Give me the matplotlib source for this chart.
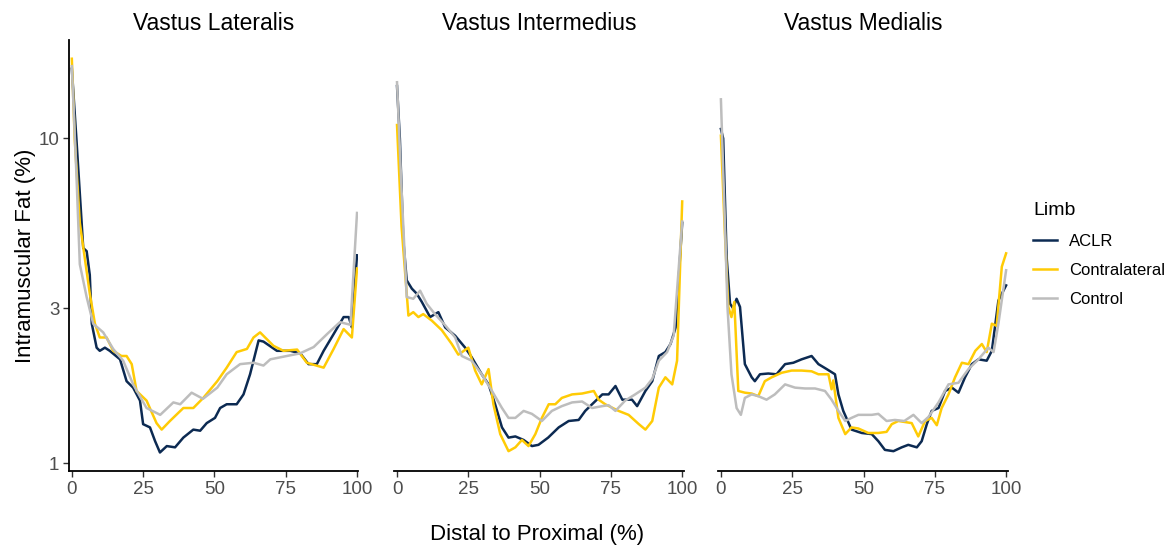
import matplotlib.pyplot as plt
from matplotlib.ticker import FixedLocator, NullLocator

plt.rcParams['font.family'] = ['Liberation Sans', 'DejaVu Sans']

titles = ['Vastus Lateralis', 'Vastus Intermedius', 'Vastus Medialis']
limbs = ['ACLR', 'Contralateral', 'Control']
colors = {'ACLR': '#0c2a52', 'Contralateral': '#ffcb05', 'Control': '#bdbdbd'}

# Vastus Lateralis
vl_aclr_x = [0, 1.6, 4, 5.2, 6.3, 7, 8.7, 9.8, 11.6, 13.3, 16.9, 19.2, 21.5, 23.9, 25, 27.4, 29.2, 30.9, 33.3,
             36.2, 39.1, 42.6, 45, 47.3, 50.2, 52, 54.3, 57.8, 60.2, 62.5, 65.5, 67.2, 71.9, 76.6, 80.1, 83,
             85.9, 88.3, 91.8, 95.3, 97.1, 98.2, 100]
vl_aclr_y = [16.4, 10, 4.6, 4.5, 3.8, 2.69, 2.27, 2.22, 2.27, 2.22, 2.09, 1.79, 1.71, 1.56, 1.32, 1.29, 1.17,
             1.08, 1.13, 1.12, 1.2, 1.27, 1.26, 1.33, 1.38, 1.48, 1.52, 1.52, 1.63, 1.88, 2.39, 2.37, 2.22,
             2.22, 2.18, 2.02, 2.02, 2.22, 2.5, 2.82, 2.82, 2.62, 4.37]
vl_contra_x = [0, 1, 2.8, 6.3, 8.1, 9.8, 12.2, 14.5, 17.4, 19.2, 21, 22.7, 26.2, 29.7, 31.5, 34.4, 39.1, 42.6,
               46.1, 51, 54.3, 57.8, 61.4, 63.7, 66, 68.4, 70.7, 74.2, 79, 82.4, 88.3, 91.8, 95.3, 98.2, 100]
vl_contra_y = [17.6, 10, 5.5, 3.33, 2.69, 2.44, 2.44, 2.22, 2.14, 2.14, 2.02, 1.67, 1.56, 1.33, 1.27, 1.35,
               1.48, 1.48, 1.59, 1.79, 1.97, 2.2, 2.25, 2.44, 2.53, 2.41, 2.3, 2.22, 2.24, 2.04, 1.97, 2.25,
               2.59, 2.44, 3.98]
vl_ctrl_x = [0, 1.6, 2.8, 5.2, 7.5, 11, 14.5, 18, 21.5, 26.2, 31, 35.6, 38, 42, 46, 51, 54.3, 59, 63.7, 67.2,
             69.6, 75.4, 80, 84.8, 89.5, 94, 97.7, 100]
vl_ctrl_y = [16.7, 7.8, 4.1, 3.25, 2.69, 2.53, 2.25, 2.07, 1.75, 1.48, 1.41, 1.54, 1.52, 1.65, 1.58, 1.71, 1.88,
             2.02, 2.04, 2.0, 2.09, 2.14, 2.18, 2.28, 2.5, 2.72, 2.67, 5.9]

# Vastus Intermedius
vi_aclr_x = [0, 1, 2.2, 3.4, 5.2, 6.9, 8.7, 11.6, 14.5, 16.9, 20.4, 23.9, 26.2, 29.7, 32.1, 34.4, 36.8, 39.1,
             41.5, 44.4, 47.3, 49.6, 53, 56.7, 60.2, 63.7, 66, 68.4, 72, 74.2, 76.6, 79, 82.4, 84.2, 87.1,
             89.5, 91.8, 94.1, 95.9, 97.7, 100]
vi_aclr_y = [14.5, 10, 4.87, 3.66, 3.45, 3.33, 3.14, 2.82, 2.92, 2.62, 2.47, 2.27, 2.12, 1.88, 1.75, 1.52,
             1.29, 1.2, 1.21, 1.18, 1.13, 1.14, 1.2, 1.29, 1.35, 1.36, 1.45, 1.52, 1.63, 1.63, 1.73, 1.57,
             1.57, 1.5, 1.67, 1.79, 2.14, 2.2, 2.33, 2.62, 5.5]
vi_contra_x = [0, 1.6, 4, 5.7, 7.5, 9.2, 12.2, 15.7, 19.2, 21.5, 25, 27.4, 29.7, 32.1, 33.8, 36.2, 39.1, 41.5,
               43.8, 46.1, 48.5, 50.8, 53.2, 55.5, 57.8, 61.4, 64.9, 69, 70.7, 73, 77.7, 81.2, 84.8, 87.1,
               89.5, 91.8, 94.1, 96.5, 98.2, 100]
vi_contra_y = [11, 5.35, 2.85, 2.92, 2.82, 2.88, 2.75, 2.57, 2.33, 2.16, 2.27, 1.93, 1.75, 1.95, 1.52, 1.23,
               1.09, 1.12, 1.18, 1.13, 1.23, 1.38, 1.52, 1.52, 1.59, 1.63, 1.64, 1.67, 1.57, 1.52, 1.45,
               1.41, 1.32, 1.27, 1.35, 1.71, 1.84, 1.75, 2.07, 6.4]
vi_ctrl_x = [0, 1.6, 3.4, 5.7, 8.1, 10.4, 13.3, 16.9, 20.4, 22.7, 26.2, 29.7, 33.3, 36.8, 39.1, 41.5, 44.4,
             47.3, 50.8, 54.3, 57.8, 61.4, 64.9, 68.4, 72, 74.2, 76.6, 80, 83.5, 87.1, 89.5, 91.8, 94.7, 97,
             100]
vi_ctrl_y = [14.9, 6.95, 3.25, 3.21, 3.4, 3.1, 2.88, 2.66, 2.44, 2.14, 2.07, 1.88, 1.67, 1.48, 1.38, 1.38,
             1.45, 1.42, 1.35, 1.45, 1.5, 1.54, 1.55, 1.48, 1.5, 1.51, 1.45, 1.56, 1.63, 1.71, 1.82, 2.07,
             2.2, 2.47, 5.55]

# Vastus Medialis
vm_aclr_x = [0, 0.8, 2, 3.2, 4.3, 5.5, 6.7, 8.4, 10.8, 11.9, 13.7, 16.6, 19.5, 22.5, 25.4, 28.3, 31.8, 34.2,
             37.1, 40, 41.2, 42.9, 45.8, 49.4, 52.9, 55.2, 57.5, 60.5, 63.4, 65.7, 68.7, 70.4, 72.2, 73.9,
             76.3, 78.6, 81, 83.3, 85.6, 88, 90.3, 93.2, 95, 97.3, 100]
vm_aclr_y = [10.7, 10, 4.32, 3.1, 3.0, 3.21, 3.03, 2.02, 1.84, 1.79, 1.88, 1.89, 1.88, 2.02, 2.04, 2.09, 2.14,
             2.02, 1.95, 1.88, 1.63, 1.45, 1.27, 1.24, 1.23, 1.17, 1.1, 1.09, 1.12, 1.14, 1.12, 1.17, 1.32,
             1.45, 1.48, 1.67, 1.71, 1.65, 1.84, 2.02, 2.09, 2.07, 2.22, 3.17, 3.53]
vm_contra_x = [0, 1.4, 2.6, 3.7, 4.7, 6.1, 8.4, 10.8, 13.1, 15.4, 17.8, 21.3, 24.8, 28.3, 31.8, 34.2, 37.7,
               38.8, 39.4, 41.2, 43.6, 45.8, 48.2, 51.7, 55.2, 58.1, 59.9, 62.2, 66.9, 69.2, 71.6, 73.9,
               75.7, 77.4, 79.8, 82.1, 84.5, 86.8, 89.2, 91.5, 93.2, 95, 96.7, 98.5, 100]
vm_contra_y = [10.2, 5.1, 3.03, 2.82, 3.14, 1.67, 1.65, 1.64, 1.61, 1.79, 1.84, 1.9, 1.93, 1.93, 1.92, 1.88,
               1.88, 1.69, 1.8, 1.38, 1.23, 1.29, 1.28, 1.24, 1.24, 1.25, 1.32, 1.35, 1.33, 1.21, 1.35, 1.38,
               1.31, 1.48, 1.63, 1.84, 2.04, 2.02, 2.22, 2.33, 2.2, 2.69, 2.65, 4.03, 4.43]
vm_ctrl_x = [0, 1.2, 2.3, 3.7, 5.5, 7, 8.4, 10.8, 13.1, 16, 18.9, 22.5, 26, 29.5, 33, 36.5, 38.8, 41.2, 43.6,
             45.8, 48.2, 52.9, 55.2, 58.1, 61, 64.3, 67.5, 70.4, 72.8, 76.3, 79.8, 83.3, 86.8, 90.3, 93.8,
             95.6, 97.3, 100]
vm_ctrl_y = [13.2, 6.2, 3.03, 1.88, 1.48, 1.41, 1.59, 1.63, 1.61, 1.57, 1.63, 1.75, 1.71, 1.7, 1.7, 1.67, 1.57,
             1.45, 1.35, 1.38, 1.41, 1.41, 1.42, 1.35, 1.36, 1.35, 1.41, 1.33, 1.39, 1.54, 1.75, 1.77, 1.95,
             2.09, 2.27, 2.2, 2.69, 3.93]

panels = [
    {'ACLR': (vl_aclr_x, vl_aclr_y), 'Contralateral': (vl_contra_x, vl_contra_y), 'Control': (vl_ctrl_x, vl_ctrl_y)},
    {'ACLR': (vi_aclr_x, vi_aclr_y), 'Contralateral': (vi_contra_x, vi_contra_y), 'Control': (vi_ctrl_x, vi_ctrl_y)},
    {'ACLR': (vm_aclr_x, vm_aclr_y), 'Contralateral': (vm_contra_x, vm_contra_y), 'Control': (vm_ctrl_x, vm_ctrl_y)},
]

fig = plt.figure(figsize=(11.71, 5.48), dpi=100)
lefts = [0.0589, 0.3366, 0.6132]
axes = []
for i, left in enumerate(lefts):
    ax = fig.add_axes([left, 0.1405, 0.2472, 0.7865])
    for limb in limbs:
        x, y = panels[i][limb]
        ax.plot(x, y, color=colors[limb], lw=1.8, label=limb, solid_joinstyle='round')
    ax.set_yscale('log')
    ax.set_ylim(0.947, 20.1)
    ax.set_xlim(-1, 100.5)
    ax.set_title(titles[i], fontsize=16.5, pad=7)
    ax.xaxis.set_major_locator(FixedLocator([0, 25, 50, 75, 100]))
    ax.yaxis.set_major_locator(FixedLocator([1, 3, 10]))
    ax.yaxis.set_minor_locator(NullLocator())
    ax.set_yticklabels(['1', '3', '10'])
    ax.tick_params(labelsize=13.5, colors='#333333', labelcolor='#4d4d4d', length=4, width=1.0, pad=3)
    for s in ['top', 'right']:
        ax.spines[s].set_visible(False)
    ax.spines['bottom'].set_linewidth(1.3)
    ax.spines['left'].set_linewidth(1.3)
    if i > 0:
        ax.spines['left'].set_visible(False)
        ax.tick_params(axis='y', left=False, labelleft=False)
    axes.append(ax)

axes[0].set_ylabel('Intramuscular Fat (%)', fontsize=16, labelpad=2)
fig.text(0.4585, 0.024, 'Distal to Proximal (%)', ha='center', va='center', fontsize=16)

handles, labels = axes[0].get_legend_handles_labels()
leg = fig.legend(handles, labels, title='Limb', loc='upper left', bbox_to_anchor=(0.8695, 0.658),
                 frameon=False, fontsize=12, title_fontsize=14, handlelength=1.4,
                 labelspacing=0.85, handletextpad=0.75)
leg._legend_box.align = 'left'

fig.savefig('out.png', dpi=100)
